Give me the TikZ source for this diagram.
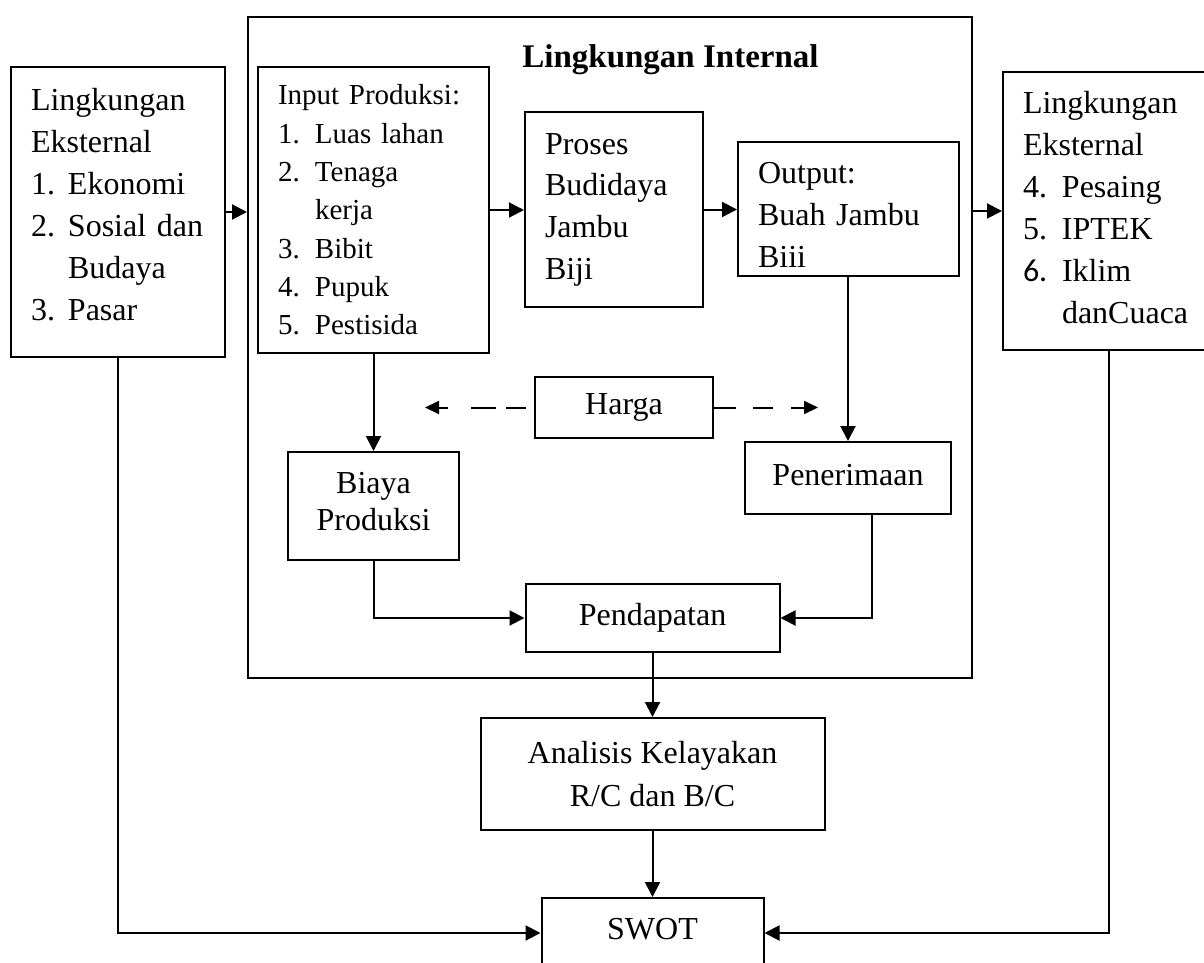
\documentclass[tikz,border=0pt]{standalone}
\usepackage{fontspec}
\setmainfont{Liberation Serif}
\newfontfamily\carlito{Carlito}
\usetikzlibrary{arrows.meta}
\newcommand{\lnum}[2][37pt]{\makebox[#1][l]{#2}}
\newcommand{\lcont}[1][37pt]{\hspace*{#1}}
\begin{document}
\begin{tikzpicture}[x=1pt, y=-1pt,
  bx/.style={draw, line width=2pt, inner sep=0pt},
  lst/.style={bx, align=left, inner xsep=20pt, font=\fontsize{32}{42}\selectfont},
  ctr/.style={bx, align=center, font=\fontsize{32}{40}\selectfont},
  arr/.style={line width=2pt, -{Triangle[length=15pt,width=15pt]}},
  dsh/.style={line width=2pt, -{Triangle[length=14pt,width=13pt]}}]
\useasboundingbox (0,0) rectangle (1204,963);
\clip (0,0) rectangle (1204,963);

% internal frame
\node[bx, minimum width=724pt, minimum height=661pt] (intbox) at (610,347.5) {};
\node[anchor=base, inner sep=0pt, font=\fontsize{33}{40}\selectfont\bfseries] (title) at (670.5,68) {Lingkungan Internal};

% external environment boxes
\node[lst, text width=174pt, minimum height=290pt, text depth=226pt] (ext1) at (118,212)
  {Lingkungan\\Eksternal\\\lnum{1.}Ekonomi\\\lnum{2.}Sosial dan\\\lcont Budaya\\\lnum{3.}Pasar};
\node[lst, text width=172pt, minimum height=278pt, text depth=218pt] (ext2) at (1109,211)
  {Lingkungan\\Eksternal\\\lnum[39pt]{4.}Pesaing\\\lnum[39pt]{5.}IPTEK\\\lnum[39pt]{{\carlito 6.}}Iklim\\\lcont[39pt]danCuaca};

% internal boxes
\node[lst, text width=191pt, minimum height=286pt, font=\fontsize{29}{38.3}\selectfont] (input) at (373.5,210)
  {Input Produksi:\\\lnum{1.}Luas lahan\\\lnum{2.}Tenaga\\\lcont kerja\\\lnum{3.}Bibit\\\lnum{4.}Pupuk\\\lnum{5.}Pestisida};
\node[lst, text width=138pt, minimum height=195pt, font=\fontsize{32}{41.7}\selectfont] (proses) at (614,209.5)
  {Proses\\Budidaya\\Jambu\\Biji};
\node[lst, text width=181pt, minimum height=134pt, text height=34pt] (output) at (848.5,209)
  {Output:\\Buah Jambu\\Biii};

\node[ctr, minimum width=178pt, minimum height=61pt] (harga) at (624,407.5) {Harga};
\node[ctr, minimum width=171pt, minimum height=108pt, font=\fontsize{32}{37}\selectfont, text depth=10pt] (biaya) at (373.5,506) {Biaya\\Produksi};
\node[ctr, minimum width=206pt, minimum height=72pt, text height=22pt, text depth=7pt] (terima) at (848,478) {Penerimaan};
\node[ctr, minimum width=254pt, minimum height=68pt] (dapat) at (652.5,618) {Pendapatan};
\node[ctr, minimum width=344pt, minimum height=112pt, font=\fontsize{32}{43}\selectfont] (analisis) at (652.5,774) {Analisis Kelayakan\\R/C dan B/C};
\node[ctr, anchor=north, minimum width=222pt, text height=41pt, text depth=29pt] (swot) at (652.5,897) {SWOT};

\coordinate (hl) at (425,407.5);
\coordinate (hr) at (818,407.5);

% connectors
\draw[arr] (ext1.east) -- (ext1.east -| intbox.west);
\draw[arr] (input.east) -- (input.east -| proses.west);
\draw[arr] (proses.east) -- (proses.east -| output.west);
\draw[arr] (ext2.west -| intbox.east) -- (ext2.west);
\draw[arr] (input.south) -- (input.south |- biaya.north);
\draw[arr] (output.south -| terima.north) -- (terima.north);
\draw[dsh, dash pattern=on 20pt off 10pt on 25pt off 23pt on 100pt off 8pt, dash phase=178pt] (harga.west) -- (hl);
\draw[dsh, dash pattern=on 22pt off 17pt on 20pt off 18pt on 100pt off 1pt] (harga.east) -- (hr);
\draw[arr] (biaya.south) |- (dapat.west);
\draw[arr] ([xshift=24pt]terima.south) |- (dapat.east);
\draw[arr] (dapat.south) -- (analisis.north);
\draw[arr] (analisis.south) -- (swot.north);
\draw[arr] (ext1.south) |- (swot.west);
\draw[arr] (ext2.south) |- (swot.east);
\end{tikzpicture}
\end{document}
